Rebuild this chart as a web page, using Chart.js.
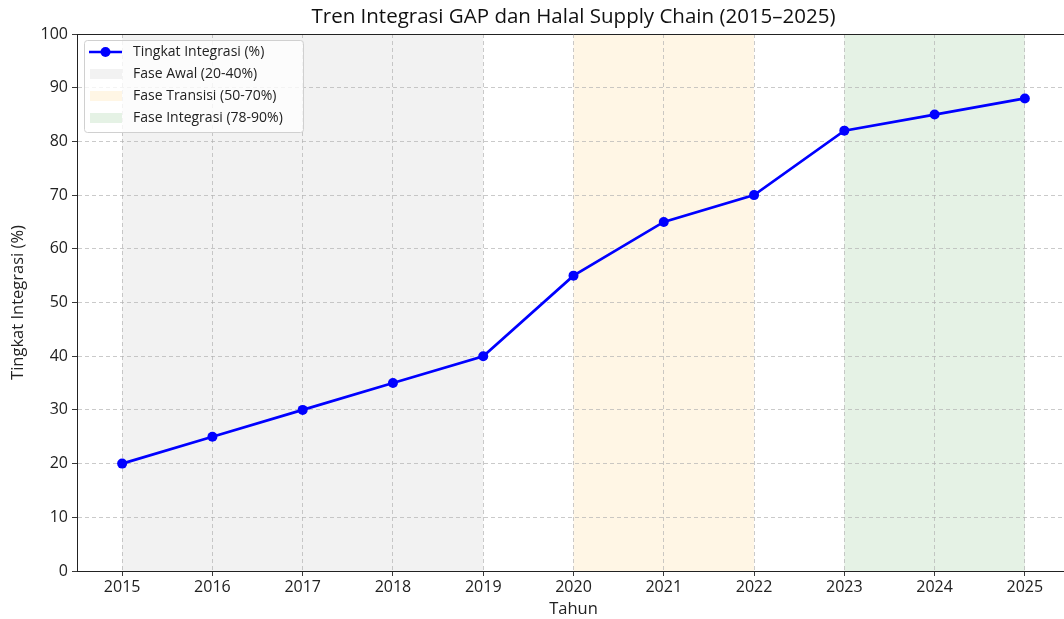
<!DOCTYPE html>
<html><head><meta charset="utf-8">
<script src="https://cdn.jsdelivr.net/npm/chart.js@4.4.1/dist/chart.umd.min.js"></script>
<style>
html,body{margin:0;padding:0;background:#fff;overflow:hidden;width:1064px;height:619px}
#wrap{width:1075px;height:619px;position:relative}
</style></head><body>
<div id="wrap"><canvas id="c" width="1075" height="619"></canvas></div>
<script>
const years = [2015,2016,2017,2018,2019,2020,2021,2022,2023,2024,2025];
const integrasi = [20,25,30,35,40,55,65,70,82,85,88];
const yTicks = [0,10,20,30,40,50,60,70,80,90,100];
const bandLabels = ['Fase Awal (20-40%)','Fase Transisi (50-70%)','Fase Integrasi (78-90%)'];
const bandStart = [2015,2020,2023];
const bandEnd = [2019,2022,2025];
const bandColors = ['rgba(128,128,128,0.1)','rgba(255,165,0,0.1)','rgba(0,128,0,0.1)'];
const lineLabel = 'Tingkat Integrasi (%)';
const titleText = 'Tren Integrasi GAP dan Halal Supply Chain (2015–2025)';
const FONT = '"Open Sans", sans-serif';

const bandsPlugin = {
  id:'bands',
  beforeDraw(chart){
    const {ctx, chartArea:a, scales:{x}} = chart;
    ctx.save();
    for(let i=0;i<bandStart.length;i++){
      const x0=x.getPixelForValue(bandStart[i]), x1=x.getPixelForValue(bandEnd[i]);
      ctx.fillStyle=bandColors[i];
      ctx.fillRect(x0,a.top,x1-x0,a.bottom-a.top);
    }
    ctx.restore();
  },
  afterDraw(chart){
    const {ctx, chartArea:a} = chart;
    ctx.save();
    ctx.strokeStyle='#222';ctx.lineWidth=1;
    ctx.beginPath();ctx.moveTo(a.left,a.top+0.5);ctx.lineTo(a.right,a.top+0.5);ctx.stroke();
    ctx.fillStyle='#111';ctx.font='20.5px '+FONT;ctx.textAlign='center';ctx.textBaseline='middle';
    ctx.fillText(titleText,(a.left+a.right)/2,17);
    const lx=84, ly=40, lw=219, lh=92;
    ctx.fillStyle='rgba(255,255,255,0.8)';
    ctx.strokeStyle='#d0d0d0';ctx.lineWidth=1;
    ctx.beginPath();ctx.roundRect(lx+0.5,ly+0.5,lw,lh,3);ctx.fill();ctx.stroke();
    ctx.font='14px '+FONT;ctx.textAlign='left';ctx.textBaseline='middle';
    const rows=[52,74,96,118];
    ctx.strokeStyle='#0000ff';ctx.lineWidth=2.5;
    ctx.beginPath();ctx.moveTo(89,rows[0]);ctx.lineTo(122,rows[0]);ctx.stroke();
    ctx.fillStyle='#0000ff';ctx.beginPath();ctx.arc(105.5,rows[0],5,0,Math.PI*2);ctx.fill();
    ctx.fillStyle='#222';ctx.fillText(lineLabel,133,rows[0]);
    for(let i=0;i<bandLabels.length;i++){
      const y=rows[i+1];
      ctx.fillStyle=bandColors[i];ctx.fillRect(90,y-5,32,10);
      ctx.fillStyle='#222';ctx.fillText(bandLabels[i],133,y);
    }
    ctx.restore();
  }
};

const gridOpts = {color:'rgba(176,176,176,0.75)',tickColor:'#222',tickLength:5,tickBorderDash:[1,0],lineWidth:0.9};
new Chart(document.getElementById('c'),{
  type:'line',
  data:{datasets:[{
    label:lineLabel,
    data:years.map((y,i)=>({x:y,y:integrasi[i]})),
    borderColor:'#0000ff',backgroundColor:'#0000ff',
    borderWidth:2.7,pointRadius:5,pointHoverRadius:5,tension:0,
    pointBorderWidth:0
  }]},
  plugins:[bandsPlugin],
  options:{
    responsive:false,animation:false,
    layout:{padding:{top:34,right:0,left:0,bottom:0}},
    plugins:{legend:{display:false},title:{display:false},tooltip:{enabled:false}},
    scales:{
      x:{type:'linear',min:2014.5,max:2025.5,
        afterBuildTicks(s){s.ticks=years.map(v=>({value:v}));},
        afterFit(s){s.height=48;},
        ticks:{color:'#222',font:{family:FONT,size:16},padding:2,maxRotation:0,callback:v=>String(v)},
        grid:gridOpts,
        border:{color:'#222',width:1,dash:[4,3]},
        title:{display:true,text:'Tahun',color:'#222',font:{family:FONT,size:16.5},padding:{top:0,bottom:0}}
      },
      y:{type:'linear',min:0,max:100,
        afterBuildTicks(s){s.ticks=yTicks.map(v=>({value:v}));},
        afterFit(s){s.width=77;},
        ticks:{color:'#222',font:{family:FONT,size:16},padding:4},
        grid:gridOpts,
        border:{color:'#222',width:1,dash:[4,3]},
        title:{display:true,text:'Tingkat Integrasi (%)',color:'#222',font:{family:FONT,size:16.5},padding:{top:8,bottom:0}}
      }
    }
  }
});
</script>
</body></html>
